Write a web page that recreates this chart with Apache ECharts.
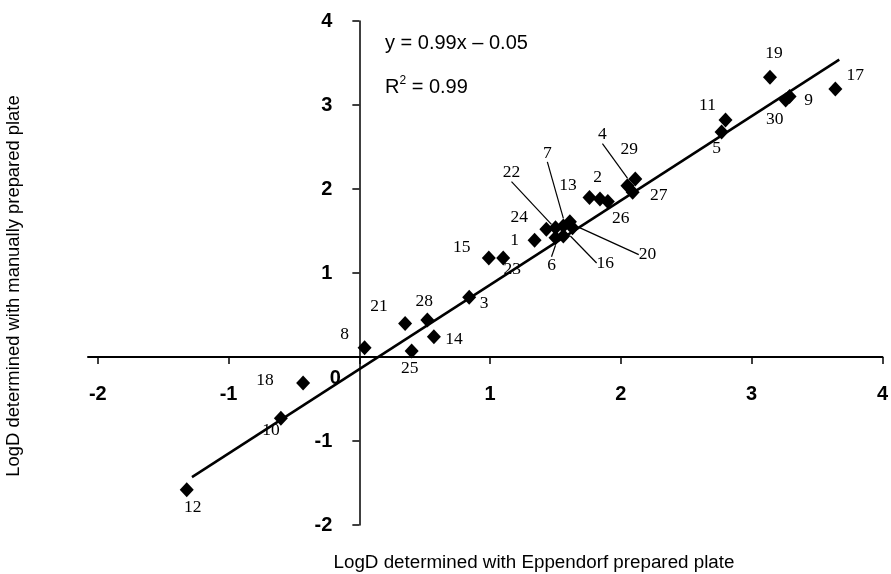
<!DOCTYPE html>
<html><head><meta charset="utf-8">
<script src="https://cdn.jsdelivr.net/npm/echarts@6/dist/echarts.min.js"></script>
<style>html,body{margin:0;padding:0;background:#fff}#c{width:891px;height:574px}</style>
</head><body><div id="c"></div>
<script>
// ---- data ----
const compoundIds = ['1','2','3','4','5','6','7','8','9','10','11','12','13','14','15','16','17','18','19','20','21','22','23','24','25','26','27','28','29','30',''];
const eppendorfLogD = [1.34,1.76,0.84,2.05,2.77,1.50,1.56,0.04,3.29,-0.60,2.80,-1.32,1.61,0.57,0.99,1.56,3.64,-0.43,3.14,1.63,0.35,1.50,1.10,1.43,0.40,1.90,2.09,0.52,2.11,3.26,1.84];
const manualLogD    = [1.39,1.90,0.71,2.04,2.68,1.42,1.56,0.11,3.10,-0.73,2.82,-1.58,1.61,0.24,1.18,1.44,3.19,-0.31,3.33,1.54,0.40,1.54,1.18,1.52,0.07,1.85,1.96,0.44,2.12,3.06,1.88];
const fitLineX = [-1.28, 3.67];
const fitLineY = [-1.43, 3.54];
const xTickValues = [-2,-1,0,1,2,3,4];
const yTickValues = [-2,-1,0,1,2,3,4];
const equationText = 'y = 0.99x \u2013 0.05';
const r2Text = '0.99';
const xTitle = 'LogD determined with Eppendorf prepared plate';
const yTitle = 'LogD determined with manually prepared plate';

// ---- presentation: label shifts (px) and which labels have leader lines ----
const labelShift = {
  '1':[-20,0],'2':[8,-20],'3':[15,6],'4':[-25,-51],'5':[-5,17],'6':[-4,28],'7':[-16,-73],
  '8':[-20,-13],'9':[19,4],'10':[-10,12],'11':[-18,-15],'12':[6,18],'13':[-2,-36],'14':[20,3],
  '15':[-27,-10],'16':[42,27],'17':[20,-14],'18':[-38,-3],'19':[4,-24],'20':[75,27],'21':[-26,-17],
  '22':[-44,-55],'23':[9,12],'24':[-27,-12],'25':[-2,17],'26':[13,17],'27':[26,3],'28':[-3,-19],
  '29':[-6,-30],'30':[-11,19],'':[0,0]
};
const leaderIds = ['4','6','7','16','20','22'];

const points = eppendorfLogD.map((x, i) => ({
  value: [x, manualLogD[i]],
  name: compoundIds[i],
  labelLine: { show: leaderIds.indexOf(compoundIds[i]) >= 0 }
}));

const W = 891, H = 574;
const G = { left: 88, right: 0, top: 21, bottom: 49 };
const chart = echarts.init(document.getElementById('c'), null, {renderer: 'canvas'});
const sans = '"Liberation Sans", Arial, sans-serif';
const serif = '"Liberation Serif", "Times New Roman", serif';

function axes(xOff, yOff) {
  return {
    xAxis: {
      type: 'value', min: -2.075, max: 4, position: 'bottom', offset: xOff,
      splitLine: { show: false },
      axisLine: { onZero: false, lineStyle: { color: '#000', width: 2 } },
      axisTick: { show: true, length: 7, lineStyle: { color: '#000', width: 1.5 }, customValues: xTickValues },
      axisLabel: { customValues: xTickValues, margin: 27, color: '#000', fontSize: 20, fontWeight: 'bold', fontFamily: sans,
        formatter: v => (v === 0 ? '' : String(v)) }
    },
    yAxis: {
      type: 'value', min: -2, max: 4, interval: 1, position: 'left', offset: yOff,
      splitLine: { show: false },
      axisLine: { onZero: false, lineStyle: { color: '#000', width: 1.5 } },
      axisTick: { show: true, length: 7, lineStyle: { color: '#000', width: 1.5 } },
      axisLabel: { margin: 27, color: '#000', fontSize: 20, fontWeight: 'bold', fontFamily: sans,
        formatter: v => (v === 0 ? '' : String(v)) }
    }
  };
}

chart.setOption(Object.assign({
  animation: false,
  backgroundColor: '#fff',
  grid: Object.assign({ containLabel: false }, G),
  series: [
    {
      type: 'line', data: fitLineX.map((x, i) => [x, fitLineY[i]]),
      symbol: 'none', lineStyle: { color: '#000', width: 2.5 }, z: 2, silent: true
    },
    {
      type: 'scatter', data: points, symbol: 'diamond', symbolSize: [14, 15],
      itemStyle: { color: '#000', opacity: 1 }, z: 3,
      label: { show: true, position: 'inside', formatter: p => p.name, color: '#000',
        fontSize: 17.5, fontFamily: serif },
      labelLine: { show: false, lineStyle: { color: '#000', width: 1.2 } },
      labelLayout: p => {
        const s = labelShift[compoundIds[p.dataIndex]] || [0, 0];
        return { dx: s[0], dy: s[1] };
      }
    }
  ]
}, axes(0, 0)));

const o = chart.convertToPixel('grid', [0, 0]);
const xOff = -((H - G.bottom) - o[1]);
const yOff = -(o[0] - G.left);
chart.setOption(Object.assign({
  graphic: [
    { type: 'text', left: 385, top: 33, style: { text: equationText, font: '20px ' + sans, fill: '#000' } },
    { type: 'text', left: 385, top: 75, style: { text: '{a|R}{s|2}{a| = ' + r2Text + '}', fill: '#000',
        rich: { a: { font: '20px ' + sans, fill: '#000', lineHeight: 24 }, s: { font: '12px ' + sans, fill: '#000', lineHeight: 24, padding: [0,0,13,0] } } } },
    { type: 'text', x: o[0] - 24, y: o[1] + 21, style: { text: '0', font: 'bold 20px ' + sans, fill: '#000', align: 'center', verticalAlign: 'middle' } },
    { type: 'text', x: 534, y: 563, style: { text: xTitle, font: '18.8px ' + sans, fill: '#000', align: 'center', verticalAlign: 'middle' } },
    { type: 'text', x: 14, y: 286, rotation: Math.PI / 2, style: { text: yTitle, font: '18.4px ' + sans, fill: '#000', align: 'center', verticalAlign: 'middle' } }
  ]
}, axes(xOff, yOff)));
</script>
</body></html>
